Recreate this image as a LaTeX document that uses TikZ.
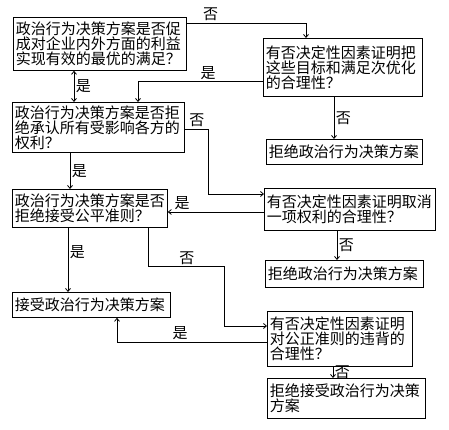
\documentclass[tikz,border=0pt]{standalone}
\usepackage{fontspec}
\newfontfamily\cjk{Noto Sans CJK SC}
\usetikzlibrary{arrows.meta,calc,positioning}

\begin{document}
\begin{tikzpicture}[>={Straight Barb[length=3pt,width=5pt]}, x=1pt, y=-1pt, line width=0.8pt,
  box/.style={draw,anchor=north west,align=left,inner xsep=2.5pt,inner ysep=2pt,
    font=\cjk\fontsize{15}{15}\selectfont},
  lab/.style={font=\cjk\fontsize{15}{15}\selectfont,inner sep=1.5pt}]
  \useasboundingbox (0,0) rectangle (449,430);
  % left column
  \node[box,text width=168pt,minimum height=53pt] (goal) at (13,17)
    {政治行为决策方案是否促\\成对企业内外方面的利益\\实现有效的最优的满足？};
  \node[box,text width=167pt,minimum height=50pt] (rights) at (12,102)
    {政治行为决策方案是否拒\\绝承认所有受影响各方的\\权利？};
  \node[box,text width=150pt,minimum height=38pt] (fair) at (12,189)
    {政治行为决策方案是否\\拒绝接受公平准则？};
  \node[box,text width=153pt,minimum height=25pt] (accept) at (12,292)
    {接受政治行为决策方案};
  % right column
  \node[box,text width=154pt,minimum height=58pt] (goaljust) at (263,38)
    {有否决定性因素证明把\\这些目标和满足次优化\\的合理性？};
  \node[box,text width=151pt,minimum height=25pt] (goalrej) at (266,139)
    {拒绝政治行为决策方案};
  \node[box,text width=166pt,minimum height=42pt] (rightsjust) at (264,188)
    {有否决定性因素证明取消\\一项权利的合理性？};
  \node[box,text width=153pt,minimum height=27pt] (rightsrej) at (265,260)
    {拒绝政治行为决策方案};
  \node[box,text width=140pt,minimum height=55pt] (fairjust) at (267,311)
    {有否决定性因素证明\\对公正准则的违背的\\合理性？};
  \node[box,text width=153pt,minimum height=40pt] (fairrej) at (267,378)
    {拒绝接受政治行为决策\\方案};
  % connector end points
  \coordinate (goalout) at ($(goal.south west)+(61,0)$);
  \coordinate (goaljustout) at ($(goaljust.south west)+(71,0)$);
  \coordinate (rightsjustin) at ($(rightsjust.north west)+(0,24)$);
  \coordinate (rightsjustout) at ($(rightsjust.south west)+(73,0)$);
  \coordinate (rightsout) at ($(rights.south west)+(58,0)$);
  \coordinate (fairout) at ($(fair.south west)+(56,0)$);
  \coordinate (fairjustout) at ($(fairjust.south west)+(66,0)$);
  % connectors
  \draw[->] ($(goal.north east)+(0,6)$) -| node[lab,above,pos=0.1] {否}
    ($(goaljust.north west)+(43,0)$);
  \draw[->] ($(goaljust.south west)+(0,-15)$) -| node[lab,above,pos=0.22] {是}
    ($(rights.north west)+(126,0)$);
  \draw[<->] (goalout) -- node[lab,right] {是} (goalout |- rights.north);
  \draw[->] (goaljustout) -- node[lab,right] {否} (goaljustout |- goalrej.north);
  \draw[->] ($(rights.north east)+(0,27)$) -- node[lab,above] {否} ++(24,0)
    |- ($(rightsjust.north west)+(0,6)$);
  \draw[->] (rightsjustin) -- node[lab,above,pos=0.85] {是} (rightsjustin -| fair.east);
  \draw[->] (rightsjustout) -- node[lab,right] {否} (rightsjustout |- rightsrej.north);
  \draw[->] (rightsout) -- node[lab,right] {是} (rightsout |- fair.north);
  \draw[->] (fairout) -- node[lab,right,pos=0.38] {是} (fairout |- accept.north);
  \draw[->] ($(fair.south east)+(-19,0)$) -- ++(0,39) -- node[lab,above] {否} ++(76,0)
    |- ($(fairjust.north west)+(0,15)$);
  \draw[->] ($(fairjust.north west)+(0,31)$) -| node[lab,above,pos=0.29] {是}
    ($(accept.south west)+(105,0)$);
  \draw[->] (fairjustout) -- node[lab,right] {否} (fairjustout |- fairrej.north);
\end{tikzpicture}
\end{document}
